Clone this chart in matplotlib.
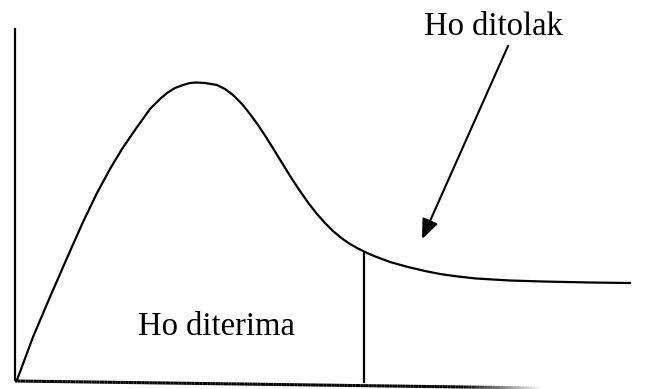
import numpy as np
import matplotlib.pyplot as plt
from matplotlib.collections import LineCollection

# Titik-titik kurva (koordinat piksel, y ke bawah)
kurva_x = [17, 33, 50, 67, 83, 97, 110, 122, 135, 150, 160, 167, 175, 183,
           190, 196, 205, 217, 225, 233, 242, 250, 258, 266, 275, 283, 292,
           300, 308, 317, 325, 333, 342, 350, 358, 365, 374, 390, 408, 425,
           440, 458, 476, 510, 543, 590, 630]
kurva_y = [380, 337, 297, 258, 222, 193, 169, 149, 130, 109, 99, 93, 88, 85,
           83, 82.5, 83, 85, 89, 95, 104, 114, 125, 137, 151.5, 164.5, 179,
           191, 202.5, 214, 223, 231, 238.5, 244, 248.5, 252, 256, 262, 267,
           271, 274, 276.5, 278.5, 280.5, 281.5, 282.5, 283]

# Garis batas daerah penerimaan
batas_x = 364
batas_y = [253, 382]

# Sumbu
sumbu_v_x = [15, 15]
sumbu_v_y = [28, 381]
sumbu_h_x = [15, 540]
sumbu_h_y = [381, 388]

# Label
label_tolak = 'Ho ditolak'
label_terima = 'Ho diterima'

fig = plt.figure(figsize=(6.45, 3.89), dpi=100)
ax = fig.add_axes([0, 0, 1, 1])
ax.set_xlim(0, 645)
ax.set_ylim(389, 0)
ax.axis('off')

# sumbu tegak
ax.plot(sumbu_v_x, sumbu_v_y, color='black', lw=1.6, solid_capstyle='butt')

# sumbu datar, memudar di ujung kanan
hx = np.linspace(sumbu_h_x[0], sumbu_h_x[1], 200)
hy = np.linspace(sumbu_h_y[0], sumbu_h_y[1], 200)
pts = np.column_stack([hx, hy]).reshape(-1, 1, 2)
segs = np.concatenate([pts[:-1], pts[1:]], axis=1)
alpha = np.clip((sumbu_h_x[1] - hx[:-1]) / 80.0, 0, 1)
warna = np.zeros((len(segs), 4))
warna[:, 3] = alpha
ax.add_collection(LineCollection(segs, colors=warna, linewidths=2.2))

# kurva distribusi
ax.plot(kurva_x, kurva_y, color='black', lw=1.6, solid_joinstyle='round')

# garis batas
ax.plot([batas_x, batas_x], batas_y, color='black', lw=1.6)

# panah
ax.annotate('', xy=(422, 239), xytext=(508, 46),
            arrowprops=dict(arrowstyle='-|>,head_length=0.6,head_width=0.25',
                            mutation_scale=20, lw=1.5, color='black',
                            shrinkA=0, shrinkB=0))

ax.text(493, 35, label_tolak, ha='center', va='baseline',
        family='Liberation Serif', fontsize=23.5)
ax.text(216, 335, label_terima, ha='center', va='baseline',
        family='Liberation Serif', fontsize=23.5)

fig.savefig('out.png', dpi=100)
